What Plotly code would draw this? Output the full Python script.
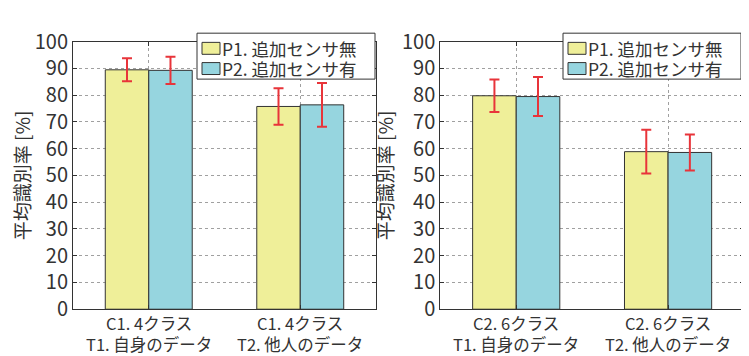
import plotly.graph_objects as go

cat_line1_left = ["C1. 4クラス", "C1. 4クラス"]
cat_line1_right = ["C2. 6クラス", "C2. 6クラス"]
cat_line2 = ["T1. 自身のデータ", "T2. 他人のデータ"]
series_names = ["P1. 追加センサ無", "P2. 追加センサ有"]

left_p1 = [89.5, 75.8]
left_p1_err = [4.3, 6.8]
left_p2 = [89.3, 76.4]
left_p2_err = [5.1, 8.2]

right_p1 = [79.8, 58.9]
right_p1_err = [6.1, 8.2]
right_p2 = [79.5, 58.6]
right_p2_err = [7.3, 6.7]

yticks = [0, 10, 20, 30, 40, 50, 60, 70, 80, 90, 100]
xpos = [1, 2]

colors = ["#EFEF99", "#96D5DF"]
err_color = "#E8343A"
FONT = "Noto Sans CJK JP"
TXT = "#333333"
W, H = 749, 356

fig = go.Figure()

def add_panel(vals, errs, xa, ya):
    for i in range(2):
        fig.add_trace(go.Bar(
            x=xpos, y=vals[i], name=series_names[i],
            marker=dict(color=colors[i], line=dict(color="#333333", width=1)),
            error_y=dict(type="data", array=errs[i], color=err_color, thickness=2, width=5),
            xaxis=xa, yaxis=ya, showlegend=False,
        ))

add_panel([left_p1, left_p2], [left_p1_err, left_p2_err], "x", "y")
add_panel([right_p1, right_p2], [right_p1_err, right_p2_err], "x2", "y2")

ybot = 1 - 310.5 / H
ytop = 1 - 19.3 / H

axis_common = dict(
    showline=True, linecolor="#333333", linewidth=1, mirror="ticks",
    ticks="inside", ticklen=4, tickcolor="#333333",
    showgrid=True, gridcolor="#A0A0A0", griddash="dot", gridwidth=1,
    zeroline=False,
)

fig.update_layout(
    width=W, height=H,
    margin=dict(l=0, r=0, t=0, b=0),
    paper_bgcolor="white", plot_bgcolor="white",
    font=dict(family=FONT, color=TXT, size=17),
    barmode="group", bargap=0.426, bargroupgap=0,
    xaxis=dict(domain=[65 / W, 368 / W], range=[0.5, 2.5], anchor="y",
               tickvals=xpos, showticklabels=False, **axis_common),
    yaxis=dict(domain=[ybot, ytop], range=[0, 100], anchor="x",
               tickvals=yticks, tickfont=dict(size=20, family=FONT, color=TXT),
               title=dict(text="平均識別率 [%]", font=dict(size=19, family=FONT, color=TXT), standoff=3),
               **axis_common),
    xaxis2=dict(domain=[432.3 / W, 736 / W], range=[0.5, 2.5], anchor="y2",
                tickvals=xpos, showticklabels=False, **axis_common),
    yaxis2=dict(domain=[ybot, ytop], range=[0, 100], anchor="x2",
                tickvals=yticks, tickfont=dict(size=20, family=FONT, color=TXT),
                title=dict(text="平均識別率 [%]", font=dict(size=19, family=FONT, color=TXT), standoff=3),
                **axis_common),
)

# category labels (two lines each)
for xref, line1 in (("x", cat_line1_left), ("x2", cat_line1_right)):
    for k in range(2):
        fig.add_annotation(x=xpos[k], xref=xref, y=1 - 337 / H, yref="paper",
                           text=line1[k] + "<br>" + cat_line2[k], showarrow=False,
                           xanchor="center", yanchor="middle", borderpad=0,
                           font=dict(size=16.5, family=FONT, color=TXT))

# legends (one per panel)
for x0 in (189, 555):
    fig.add_shape(type="rect", xref="paper", yref="paper",
                  x0=x0 / W, x1=(x0 + 178) / W, y0=1 - 60 / H, y1=1 - 10 / H,
                  fillcolor="white", line=dict(color="#333333", width=1), layer="above")
    for i, (yt, yb) in enumerate(((20, 33), (42, 55))):
        fig.add_shape(type="rect", xref="paper", yref="paper",
                      x0=(x0 + 5) / W, x1=(x0 + 23) / W, y0=1 - yb / H, y1=1 - yt / H,
                      fillcolor=colors[i], line=dict(color="#333333", width=1), layer="above")
        fig.add_annotation(x=(x0 + 24) / W, xref="paper", y=1 - (yt + yb) / 2 / H, yref="paper",
                           text=series_names[i], showarrow=False, xanchor="left", yanchor="middle",
                           borderpad=0, font=dict(size=17.5, family=FONT, color=TXT))

fig.write_html("out.html")
